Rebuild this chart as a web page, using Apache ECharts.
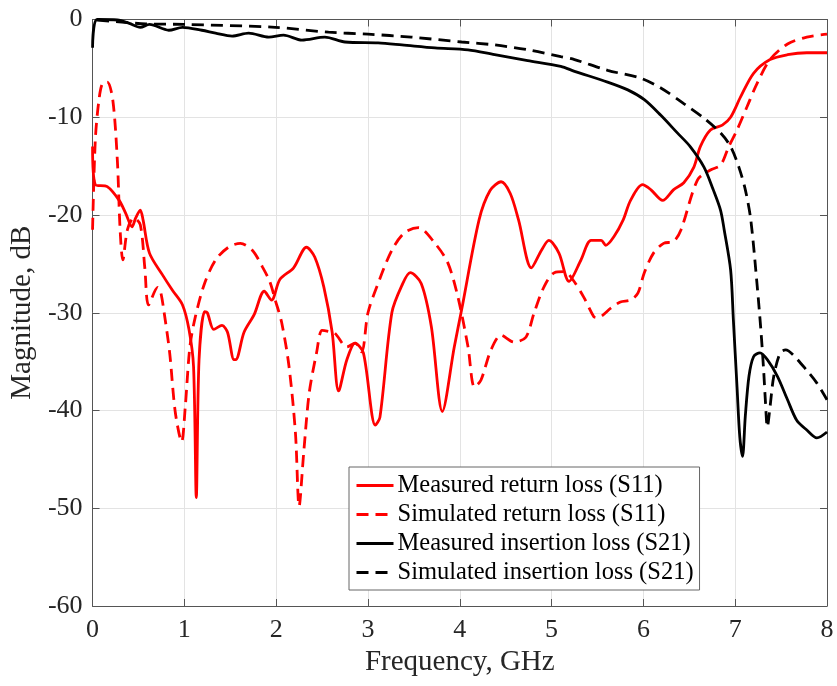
<!DOCTYPE html>
<html>
<head>
<meta charset="utf-8">
<script src="https://cdn.jsdelivr.net/npm/echarts@6/dist/echarts.min.js"></script>
<style>html,body{margin:0;padding:0;background:#fff}#c{width:837px;height:686px}</style>
</head>
<body>
<div id="c"></div>
<script>
const xTicks = [0,1,2,3,4,5,6,7,8];
const yTicks = [-60,-50,-40,-30,-20,-10,0];

const seriesNames = ['Measured return loss (S11)','Simulated return loss (S11)','Measured insertion loss (S21)','Simulated insertion loss (S21)'];

const measS11Freq = [0,0.03,0.16,0.29,0.36,0.43,0.47,0.52,0.55,0.62,0.76,0.87,0.98,1.05,1.10,1.13,1.16,1.22,1.25,1.32,1.41,1.47,1.54,1.56,1.65,1.76,1.87,1.95,2.04,2.19,2.33,2.42,2.52,2.61,2.68,2.77,2.86,2.95,3.08,3.13,3.26,3.37,3.46,3.58,3.69,3.81,3.94,4.02,4.21,4.33,4.45,4.55,4.64,4.78,4.89,4.97,5.08,5.19,5.32,5.43,5.54,5.59,5.68,5.78,5.86,5.99,6.08,6.21,6.33,6.44,6.55,6.62,6.73,6.86,6.95,7.06,7.20,7.38,7.57,7.78,8.0];
const measS11Val = [-13.0,-16.9,-17.1,-18.5,-19.8,-21.2,-20.3,-19.5,-20.5,-23.9,-26.1,-27.7,-29.2,-31.7,-35.5,-48.9,-34.8,-29.9,-30.0,-31.7,-31.3,-32.0,-34.8,-34.8,-32.0,-30.2,-27.8,-28.7,-26.6,-25.4,-23.3,-24.3,-27.4,-32.0,-38.0,-34.8,-33.1,-34.1,-41.5,-40.7,-30.0,-27.2,-25.9,-27.0,-31.4,-40.1,-33.5,-29.7,-20.5,-17.5,-16.6,-17.8,-20.5,-25.4,-23.6,-22.6,-23.9,-26.8,-24.6,-22.6,-22.6,-23.1,-22.2,-20.5,-18.5,-16.9,-17.4,-18.5,-17.4,-16.7,-15.1,-13.0,-11.3,-10.8,-10.0,-7.9,-5.5,-4.1,-3.6,-3.4,-3.4];

const simS11Freq = [0,0.03,0.07,0.11,0.16,0.22,0.27,0.30,0.33,0.38,0.45,0.52,0.57,0.61,0.71,0.74,0.78,0.84,0.90,0.97,1.01,1.06,1.12,1.22,1.34,1.48,1.61,1.74,1.85,1.93,1.99,2.06,2.14,2.21,2.25,2.30,2.36,2.44,2.50,2.57,2.64,2.77,2.86,2.93,3.00,3.11,3.26,3.40,3.55,3.73,3.87,3.98,4.09,4.16,4.23,4.34,4.45,4.59,4.72,4.81,4.92,5.03,5.14,5.23,5.35,5.46,5.50,5.65,5.75,5.86,5.94,6.01,6.11,6.22,6.33,6.41,6.59,6.73,6.84,6.93,7.02,7.13,7.24,7.38,7.57,7.78,8.0];
const simS11Val = [-21.5,-12.3,-8.2,-6.5,-6.4,-8.2,-14.4,-21.5,-24.6,-21.5,-20.3,-21.0,-25.5,-29.2,-27.4,-27.8,-30.0,-34.1,-40.1,-43.2,-39.6,-33.5,-30.4,-27.0,-24.6,-23.3,-22.9,-23.6,-25.3,-26.8,-28.7,-31.0,-35.5,-42.3,-49.8,-44.3,-38.2,-34.1,-31.8,-31.9,-32.1,-33.5,-33.1,-34.0,-30.0,-27.0,-23.6,-21.8,-21.3,-22.9,-24.9,-28.4,-33.5,-37.6,-36.9,-33.8,-32.3,-33.0,-32.5,-30.0,-27.3,-25.9,-25.8,-26.6,-28.4,-30.4,-30.5,-29.5,-28.9,-28.7,-28.0,-25.9,-23.9,-22.9,-22.7,-21.5,-16.4,-15.4,-14.9,-13.0,-11.3,-8.9,-6.5,-4.1,-2.5,-1.8,-1.5];

const measS21Freq = [0,0.05,0.27,0.40,0.52,0.62,0.83,0.98,1.19,1.34,1.52,1.70,1.92,2.08,2.28,2.53,2.75,3.11,3.37,3.73,4.09,4.38,4.74,5.10,5.25,5.61,5.83,6.01,6.19,6.37,6.51,6.66,6.76,6.84,6.88,6.95,6.98,7.02,7.05,7.08,7.11,7.15,7.20,7.27,7.35,7.46,7.57,7.67,7.78,7.89,8.0];
const measS21Val = [-2.9,0,-0.05,-0.4,-0.8,-0.5,-1.1,-0.8,-1.1,-1.4,-1.7,-1.4,-1.8,-1.6,-2.1,-1.8,-2.3,-2.4,-2.6,-2.9,-3.1,-3.6,-4.2,-4.8,-5.3,-6.4,-7.2,-8.2,-9.8,-11.6,-13.0,-15.1,-17.4,-19.5,-21.5,-25.6,-30.7,-37.6,-42.7,-44.7,-40.6,-36.5,-34.5,-34.1,-34.8,-36.5,-38.9,-41.0,-42.0,-42.8,-42.2];

const simS21Freq = [0.05,0.58,1.0,1.99,2.57,3.0,3.47,4.02,4.38,4.74,5.10,5.25,5.61,5.97,6.19,6.44,6.66,6.84,6.95,7.04,7.11,7.17,7.24,7.28,7.31,7.33,7.35,7.38,7.42,7.49,7.55,7.63,7.78,7.89,8.0];
const simS21Val = [-0.05,-0.45,-0.5,-0.8,-1.3,-1.5,-1.8,-2.3,-2.6,-3.1,-3.8,-4.1,-5.2,-6.0,-7.0,-8.6,-10.1,-11.6,-13.0,-15.1,-17.4,-20.5,-27.3,-31.8,-35.9,-39.2,-41.7,-39.6,-36.5,-34.1,-33.8,-34.3,-35.9,-37.2,-38.9];

function pairs(f, v){ return f.map((x,i)=>[x, v[i]]); }

const FONT = 'Liberation Serif';
const axisColor = '#555555';
const txtColor = '#262626';

const chart = echarts.init(document.getElementById('c'), null, {renderer:'canvas'});

function mk(name, data, color, dashed){
  return {
    name, type:'line', data, symbol:'none', showSymbol:false, smooth:0.3,
    lineStyle:{color, width:2.8, type: dashed ? [12,7] : 'solid'},
    itemStyle:{color}, animation:false, z: 3
  };
}

chart.setOption({
  animation:false,
  backgroundColor:'#ffffff',
  grid:{left:90, right:10, top:19.5, bottom:80, containLabel:false},
  legend:{
    orient:'vertical', left:349, top:467,
    padding:[6,6,5,6], itemGap:4, itemWidth:37, itemHeight:14,
    itemStyle:{opacity:0},
    lineStyle:{width:3},
    backgroundColor:'#ffffff', borderColor:'#666666', borderWidth:1, borderRadius:0,
    textStyle:{fontFamily:FONT, fontSize:24.5, color:'#000', lineHeight:24, padding:[0,0,0,-1]},
    data: seriesNames
  },
  xAxis:[{
    type:'value', min:xTicks[0], max:xTicks[xTicks.length-1], interval:1,
    name:'Frequency, GHz', nameLocation:'middle', nameGap:38,
    nameTextStyle:{fontFamily:FONT, fontSize:29, color:txtColor},
    axisLine:{show:true, onZero:false, lineStyle:{color:axisColor, width:1}},
    axisTick:{show:true, inside:true, length:7, lineStyle:{color:axisColor}},
    axisLabel:{fontFamily:FONT, fontSize:26, color:txtColor, margin:11},
    splitLine:{show:true, lineStyle:{color:'#e3e3e3', width:1}}
  },{
    type:'value', position:'top', min:0, max:8, interval:1,
    axisLine:{show:true, onZero:false, lineStyle:{color:axisColor, width:1}},
    axisTick:{show:true, inside:true, length:7, lineStyle:{color:axisColor}},
    axisLabel:{show:false}, splitLine:{show:false}
  }],
  yAxis:[{
    type:'value', min:yTicks[0], max:yTicks[yTicks.length-1], interval:10,
    name:'Magnitude, dB', nameLocation:'middle', nameGap:47, nameRotate:90,
    nameTextStyle:{fontFamily:FONT, fontSize:29, color:txtColor},
    axisLine:{show:true, onZero:false, lineStyle:{color:axisColor, width:1}},
    axisTick:{show:true, inside:true, length:7, lineStyle:{color:axisColor}},
    axisLabel:{fontFamily:FONT, fontSize:26, color:txtColor, margin:10, formatter:v=>String(v).replace('\u2212','-')},
    splitLine:{show:true, lineStyle:{color:'#e3e3e3', width:1}}
  },{
    type:'value', position:'right', min:-60, max:0, interval:10,
    axisLine:{show:true, onZero:false, lineStyle:{color:axisColor, width:1}},
    axisTick:{show:true, inside:true, length:7, lineStyle:{color:axisColor}},
    axisLabel:{show:false}, splitLine:{show:false}
  }],
  series:[
    mk(seriesNames[0], pairs(measS11Freq, measS11Val), '#ff0000', false),
    mk(seriesNames[1], pairs(simS11Freq, simS11Val), '#ff0000', true),
    mk(seriesNames[2], pairs(measS21Freq, measS21Val), '#000000', false),
    mk(seriesNames[3], pairs(simS21Freq, simS21Val), '#000000', true)
  ]
});
</script>
</body>
</html>
